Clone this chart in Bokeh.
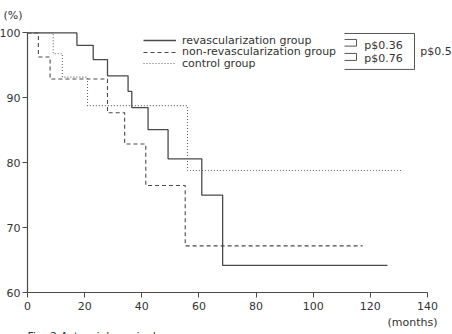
from bokeh.plotting import figure
from bokeh.models import Legend, LegendItem, Label, FixedTicker, Range1d
from bokeh.embed import file_html
from bokeh.resources import INLINE

# Kaplan-Meier style survival curves (months vs. % survival)
revasc_t = [0, 17.3, 23.0, 28.0, 35.2, 36.5, 42.2, 49.2, 61.0, 68.3, 126.0]
revasc_s = [100, 98.1, 95.9, 93.4, 91.0, 88.5, 85.1, 80.6, 75.0, 64.2, 64.2]

nonrev_t = [0, 3.8, 7.9, 28.0, 34.0, 41.4, 55.2, 117.3]
nonrev_s = [100, 96.3, 92.9, 87.7, 82.9, 76.5, 67.2, 67.2]

control_t = [0, 9.0, 12.2, 21.0, 56.0, 131.2]
control_s = [100, 96.8, 93.2, 88.8, 78.8, 78.8]

series_names = ["revascularization group", "non-revascularization group", "control group"]
p_pairs = ["p$0.36", "p$0.76"]
p_overall = "p$0.5"

x_ticks = [0, 20, 40, 60, 80, 100, 120, 140]
y_ticks = [60, 70, 80, 90, 100]

FONT = "DejaVu Sans"
FS = "11px"
INK = "#333333"
LINE = "#4a4a4a"

# The frame covers the whole canvas; axes sit at fixed data locations so
# that side texts (units, p-values, caption) stay inside the drawable area.
p = figure(width=452, height=334, output_backend="svg", toolbar_location=None,
           x_range=Range1d(-9.45, 148.75), y_range=Range1d(53.54, 105.0),
           min_border=0, min_border_left=0, min_border_right=0,
           min_border_top=0, min_border_bottom=0)
p.outline_line_color = None
p.grid.grid_line_color = None
p.background_fill_color = "white"
p.border_fill_color = "white"

for ax in (p.xaxis[0], p.yaxis[0]):
    ax.axis_line_color = LINE
    ax.axis_line_width = 1.2
    ax.major_tick_line_color = LINE
    ax.major_tick_out = 5
    ax.major_tick_in = 0
    ax.minor_tick_line_color = None
    ax.major_label_text_font = FONT
    ax.major_label_text_font_size = FS
    ax.major_label_text_color = INK
p.xaxis.ticker = FixedTicker(ticks=x_ticks)
p.yaxis.ticker = FixedTicker(ticks=y_ticks)
p.xaxis.bounds = (0, 140)
p.yaxis.bounds = (60, 100)
p.xaxis.fixed_location = 60
p.yaxis.fixed_location = 0
p.xaxis.major_label_standoff = 4
p.yaxis.major_label_standoff = 2

r1 = p.step(revasc_t, revasc_s, mode="after", line_color=LINE, line_width=1.3)
r2 = p.step(nonrev_t, nonrev_s, mode="after", line_color=LINE, line_width=1.1, line_dash="4 3")
r3 = p.step(control_t, control_s, mode="after", line_color="#666666", line_width=1.1, line_dash="1 2")

# one single-entry legend per series, stacked with a tight row pitch
for i, (name, r) in enumerate(zip(series_names, [r1, r2, r3])):
    lg = Legend(items=[LegendItem(label=name, renderers=[r])],
                location=(143, 287.5 - i * 11.6), orientation="vertical",
                glyph_width=33, glyph_height=12, label_height=12, spacing=0,
                padding=0, margin=0, label_standoff=6,
                label_text_font=FONT, label_text_font_size=FS,
                label_text_color=INK, background_fill_alpha=0,
                border_line_color=None)
    p.add_layout(lg, "center")

# bracket linking the p-values
box_x = [110.95, 135.45, 135.45, 110.95]
box_y = [99.92, 99.92, 94.38, 94.38]
p.line(box_x, box_y, line_color="#555555", line_width=1)
for top, bot in [(99.0, 97.97), (96.85, 95.77)]:
    p.line([110.95, 115.15, 115.15, 110.95], [top, top, bot, bot],
           line_color="#555555", line_width=1)

def text(x, y, s, align="left", baseline="middle"):
    p.add_layout(Label(x=x, y=y, text=s, text_font=FONT, text_font_size=FS,
                       text_color=INK, text_align=align, text_baseline=baseline))

text(117.9, 98.05, p_pairs[0])
text(117.9, 96.0, p_pairs[1])
text(137.5, 97.15, p_overall)
text(-8.4, 102.7, "(%)")
text(143.5, 55.45, "(months)", align="right")
text(0, 54.3, "Fig. 2  Actuarial survival", baseline="top")

open("out.html", "w").write(file_html(p, INLINE))
